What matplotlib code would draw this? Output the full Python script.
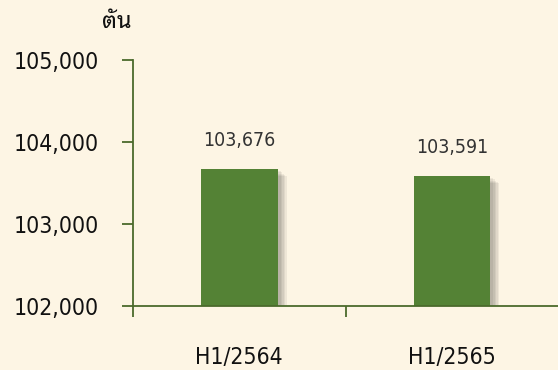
import matplotlib
matplotlib.use("Agg")
import matplotlib.pyplot as plt
import matplotlib.patheffects as pe
from matplotlib.ticker import FixedLocator, FuncFormatter

# Production, tonnes, first half of year
periods = ["H1/2564", "H1/2565"]
tonnes = [103676, 103591]
y_ticks = [102000, 103000, 104000, 105000]
unit_label = "ตัน"

BG = "#fdf5e4"
BAR = "#548235"
AXIS = "#4b6a2c"
FONT = ["DejaVu Sans", "Noto Sans Thai Looped"]

plt.rcParams["font.family"] = FONT

fig = plt.figure(figsize=(5.58, 3.70), dpi=100, facecolor=BG)
ax = fig.add_axes([133 / 558, 1 - 306 / 370, 1 - 133 / 558, (306 - 60) / 370])
ax.set_facecolor(BG)

x = list(range(len(periods)))
shadow = [pe.SimplePatchShadow(offset=(o, -o * 0.8), shadow_rgbFace="#000000", alpha=0.06)
          for o in (6.5, 5.5, 4.5, 3.5, 2.5)]
bars = ax.bar(x, [v - y_ticks[0] for v in tonnes], bottom=y_ticks[0], width=0.36,
              color=BAR, zorder=2, path_effects=shadow + [pe.Normal()])

for xi, v in zip(x, tonnes):
    ax.annotate(f"{v:,}", (xi, v), xytext=(0, 20), textcoords="offset points",
                ha="center", va="center", fontsize=14, color="#333333",
                fontstretch="condensed")

ax.set_xlim(-0.5, 1.5)
ax.set_ylim(y_ticks[0], y_ticks[-1])
ax.set_yticks(y_ticks)
ax.yaxis.set_major_formatter(FuncFormatter(lambda v, _: f"{int(v):,}"))

# category boundaries carry the tick marks, centres carry the labels
ax.xaxis.set_major_locator(FixedLocator([-0.5, 0.5]))
ax.xaxis.set_minor_locator(FixedLocator(x))
ax.set_xticklabels([])
ax.set_xticks(x, periods, minor=True)

for s in ("top", "right"):
    ax.spines[s].set_visible(False)
for s in ("left", "bottom"):
    ax.spines[s].set_color(AXIS)
    ax.spines[s].set_linewidth(1.3)
    ax.spines[s].set_zorder(3)

ax.tick_params(axis="y", length=8, width=1.3, color=AXIS, pad=16.5, labelsize=16.5)
ax.tick_params(axis="x", which="major", length=8, width=1.3, color=AXIS)
ax.tick_params(axis="x", which="minor", length=0, pad=29, labelsize=16.5)
for lbl in ax.get_yticklabels() + ax.get_xticklabels(minor=True):
    lbl.set_fontstretch("condensed")
    lbl.set_color("#111111")

fig.text(117 / 558, 1 - 22 / 370, unit_label, ha="center", va="center",
         fontsize=17, fontweight="bold", family=["Noto Sans Thai Looped"], color="#111111")

fig.savefig("out.png", dpi=100, facecolor=BG)
